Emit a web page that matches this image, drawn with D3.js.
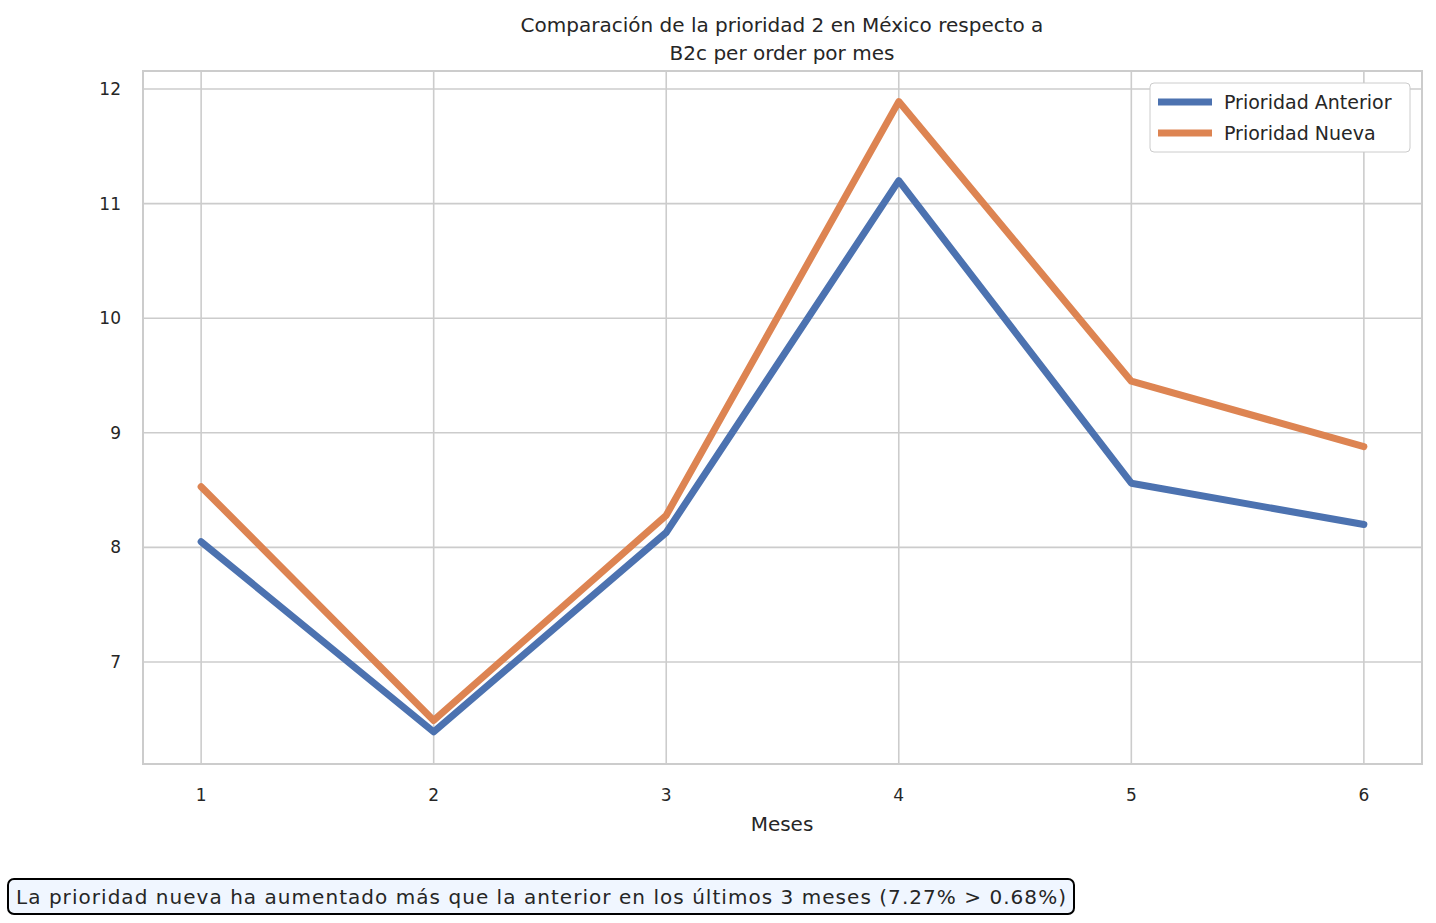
<!DOCTYPE html>
<html><head><meta charset="utf-8">
<script src="https://cdn.jsdelivr.net/npm/d3@7"></script>
<style>body{margin:0;background:#fff}text{font-family:"DejaVu Sans",sans-serif;fill:#262626}</style>
</head><body>
<svg width="1436" height="923"></svg>
<script>
const meses=[1,2,3,4,5,6]
const anterior=[8.05,6.39,8.13,11.2,8.56,8.2]
const nueva=[8.53,6.49,8.28,11.89,9.45,8.88]
const yTicks=[7,8,9,10,11,12]
const series=[{name:"Prioridad Anterior",vals:anterior,color:"#4c72b0"},{name:"Prioridad Nueva",vals:nueva,color:"#dd8452"}]

const svg=d3.select("svg")
const L=143,R=1422,T=71,B=764
const x=d3.scaleLinear().domain([0.75,6.25]).range([L,R])
const y=d3.scaleLinear().domain([6.11,12.157]).range([B,T])

const g=svg.append("g")
g.selectAll(".vx").data(meses).join("line").attr("x1",d=>x(d)).attr("x2",d=>x(d)).attr("y1",T).attr("y2",B).attr("stroke","#cccccc").attr("stroke-width",1.6)
g.selectAll(".hy").data(yTicks).join("line").attr("x1",L).attr("x2",R).attr("y1",d=>y(d)).attr("y2",d=>y(d)).attr("stroke","#cccccc").attr("stroke-width",1.6)
svg.append("rect").attr("x",L).attr("y",T).attr("width",R-L).attr("height",B-T).attr("fill","none").attr("stroke","#cccccc").attr("stroke-width",2)

svg.selectAll(".xt").data(meses).join("text").attr("x",d=>x(d)).attr("y",801).attr("text-anchor","middle").attr("font-size",17).text(d=>d)
svg.selectAll(".yt").data(yTicks).join("text").attr("x",L-22).attr("y",d=>y(d)+6).attr("text-anchor","end").attr("font-size",17).text(d=>d)

const line=d3.line().x((d,i)=>x(meses[i])).y(d=>y(d))
series.forEach(s=>{
svg.append("path").attr("d",line(s.vals)).attr("fill","none").attr("stroke",s.color).attr("stroke-width",7).attr("stroke-linecap","round").attr("stroke-linejoin","round")
})

svg.append("text").attr("x",782).attr("y",32).attr("text-anchor","middle").attr("font-size",20).text("Comparación de la prioridad 2 en México respecto a")
svg.append("text").attr("x",782).attr("y",60).attr("text-anchor","middle").attr("font-size",20).text("B2c per order por mes")
svg.append("text").attr("x",782).attr("y",831).attr("text-anchor","middle").attr("font-size",20).text("Meses")

const lg=svg.append("g")
lg.append("rect").attr("x",1150).attr("y",83).attr("width",260).attr("height",69).attr("rx",4).attr("fill","#fff").attr("stroke","#cccccc")
series.forEach((s,i)=>{
const yy=102+i*31
lg.append("line").attr("x1",1158).attr("x2",1212).attr("y1",yy).attr("y2",yy).attr("stroke",s.color).attr("stroke-width",7)
lg.append("text").attr("x",1224).attr("y",yy+7).attr("font-size",19).text(s.name)
})

svg.append("rect").attr("x",8).attr("y",879).attr("width",1066).attr("height",35).attr("rx",6).attr("fill","#f0f6ff").attr("stroke","#000").attr("stroke-width",2)
svg.append("text").attr("x",16).attr("y",904).attr("font-size",20).attr("textLength",1050).text("La prioridad nueva ha aumentado más que la anterior en los últimos 3 meses (7.27% > 0.68%)")
</script>
</body></html>
